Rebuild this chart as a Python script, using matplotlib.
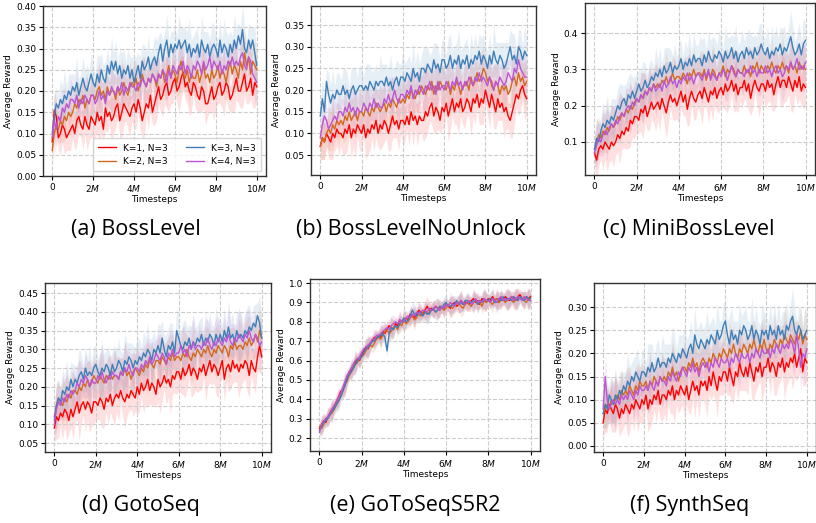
import matplotlib
matplotlib.use('Agg')
import matplotlib.pyplot as plt
import numpy as np

# timesteps in millions, one sample every 0.1M (each row below = 1M)
steps = np.linspace(0, 10, 101)

labels = ['K=1, N=3', 'K=2, N=3', 'K=3, N=3', 'K=4, N=3']
colors = ['#ff0000', '#d2691e', '#3f7fb8', '#ba55d3']

# (a) BossLevel
red_a = [0.08, 0.155, 0.14, 0.09, 0.10, 0.12, 0.11, 0.09, 0.10, 0.11,
         0.12, 0.10, 0.13, 0.14, 0.12, 0.11, 0.14, 0.12, 0.11, 0.14,
         0.13, 0.12, 0.15, 0.13, 0.14, 0.11, 0.16, 0.14, 0.15, 0.13,
         0.14, 0.16, 0.17, 0.13, 0.15, 0.17, 0.16, 0.15, 0.14, 0.16,
         0.17, 0.15, 0.18, 0.16, 0.13, 0.15, 0.17, 0.16, 0.19, 0.15,
         0.17, 0.19, 0.21, 0.18, 0.19, 0.21, 0.22, 0.19, 0.20, 0.22,
         0.23, 0.20, 0.21, 0.23, 0.245, 0.21, 0.22, 0.20, 0.19, 0.22,
         0.21, 0.19, 0.18, 0.21, 0.20, 0.17, 0.17, 0.19, 0.21, 0.18,
         0.19, 0.21, 0.22, 0.19, 0.20, 0.22, 0.21, 0.18, 0.19, 0.21,
         0.23, 0.20, 0.20, 0.22, 0.24, 0.20, 0.21, 0.23, 0.19, 0.22,
         0.21]
orange_a = [0.06, 0.10, 0.12, 0.11, 0.13, 0.12, 0.14, 0.13, 0.15, 0.14,
            0.15, 0.17, 0.16, 0.18, 0.17, 0.19, 0.16, 0.18, 0.17, 0.19,
            0.19, 0.18, 0.20, 0.21, 0.19, 0.20, 0.18, 0.21, 0.19, 0.20,
            0.20, 0.18, 0.21, 0.19, 0.20, 0.22, 0.20, 0.19, 0.21, 0.22,
            0.21, 0.23, 0.20, 0.22, 0.24, 0.22, 0.21, 0.23, 0.22, 0.24,
            0.23, 0.21, 0.24, 0.23, 0.25, 0.22, 0.24, 0.26, 0.23, 0.25,
            0.24, 0.22, 0.25, 0.27, 0.24, 0.23, 0.25, 0.22, 0.24, 0.23,
            0.23, 0.25, 0.22, 0.24, 0.26, 0.23, 0.24, 0.22, 0.25, 0.23,
            0.24, 0.26, 0.23, 0.25, 0.24, 0.22, 0.25, 0.27, 0.24, 0.26,
            0.25, 0.23, 0.27, 0.25, 0.29, 0.26, 0.28, 0.24, 0.27, 0.26,
            0.25]
blue_a = [0.10, 0.14, 0.17, 0.16, 0.18, 0.17, 0.19, 0.18, 0.20, 0.19,
          0.21, 0.20, 0.22, 0.19, 0.21, 0.23, 0.21, 0.20, 0.22, 0.24,
          0.22, 0.21, 0.24, 0.22, 0.25, 0.23, 0.22, 0.26, 0.24, 0.27,
          0.25, 0.27, 0.24, 0.26, 0.23, 0.25, 0.24, 0.26, 0.23, 0.25,
          0.22, 0.24, 0.26, 0.23, 0.27, 0.25, 0.26, 0.28, 0.25, 0.27,
          0.28, 0.26, 0.29, 0.31, 0.27, 0.30, 0.32, 0.28, 0.31, 0.29,
          0.31, 0.30, 0.32, 0.30, 0.31, 0.32, 0.29, 0.31, 0.28, 0.30,
          0.29, 0.31, 0.28, 0.32, 0.30, 0.29, 0.31, 0.28, 0.30, 0.31,
          0.30, 0.28, 0.32, 0.29, 0.31, 0.30, 0.28, 0.31, 0.29, 0.32,
          0.30, 0.33, 0.31, 0.345, 0.30, 0.29, 0.32, 0.30, 0.32, 0.29,
          0.26]
purple_a = [0.09, 0.13, 0.11, 0.14, 0.13, 0.16, 0.15, 0.17, 0.16, 0.18,
            0.18, 0.17, 0.19, 0.16, 0.18, 0.17, 0.19, 0.18, 0.17, 0.19,
            0.19, 0.17, 0.18, 0.20, 0.18, 0.19, 0.17, 0.20, 0.19, 0.21,
            0.20, 0.19, 0.21, 0.20, 0.22, 0.19, 0.21, 0.20, 0.22, 0.21,
            0.21, 0.20, 0.22, 0.21, 0.23, 0.22, 0.21, 0.23, 0.22, 0.24,
            0.23, 0.22, 0.24, 0.23, 0.25, 0.24, 0.22, 0.25, 0.23, 0.26,
            0.25, 0.24, 0.26, 0.25, 0.27, 0.24, 0.26, 0.25, 0.23, 0.26,
            0.25, 0.27, 0.26, 0.24, 0.27, 0.25, 0.26, 0.28, 0.25, 0.27,
            0.26, 0.25, 0.27, 0.24, 0.26, 0.25, 0.27, 0.26, 0.28, 0.26,
            0.27, 0.26, 0.28, 0.29, 0.26, 0.25, 0.28, 0.27, 0.24, 0.23,
            0.22]

# (b) BossLevelNoUnlock
red_b = [0.07, 0.09, 0.08, 0.10, 0.09, 0.08, 0.10, 0.09, 0.11, 0.10,
         0.10, 0.09, 0.11, 0.10, 0.12, 0.09, 0.11, 0.10, 0.12, 0.11,
         0.10, 0.12, 0.09, 0.11, 0.10, 0.12, 0.11, 0.13, 0.10, 0.12,
         0.11, 0.13, 0.12, 0.10, 0.12, 0.14, 0.12, 0.13, 0.11, 0.13,
         0.13, 0.12, 0.14, 0.12, 0.15, 0.13, 0.14, 0.12, 0.14, 0.13,
         0.13, 0.15, 0.14, 0.16, 0.17, 0.14, 0.16, 0.15, 0.13, 0.16,
         0.15, 0.17, 0.14, 0.16, 0.18, 0.15, 0.17, 0.16, 0.18, 0.15,
         0.16, 0.18, 0.17, 0.15, 0.18, 0.17, 0.19, 0.16, 0.18, 0.17,
         0.20, 0.18, 0.16, 0.19, 0.17, 0.15, 0.18, 0.16, 0.17, 0.15,
         0.16, 0.14, 0.13, 0.15, 0.17, 0.19, 0.18, 0.20, 0.21, 0.19,
         0.18]
orange_b = [0.07, 0.09, 0.08, 0.10, 0.11, 0.10, 0.12, 0.11, 0.13, 0.12,
            0.13, 0.12, 0.14, 0.13, 0.15, 0.13, 0.14, 0.15, 0.13, 0.15,
            0.15, 0.14, 0.16, 0.15, 0.14, 0.16, 0.15, 0.17, 0.16, 0.15,
            0.16, 0.17, 0.15, 0.17, 0.16, 0.18, 0.17, 0.16, 0.18, 0.17,
            0.18, 0.17, 0.19, 0.18, 0.20, 0.19, 0.18, 0.20, 0.19, 0.21,
            0.20, 0.19, 0.21, 0.20, 0.22, 0.19, 0.21, 0.20, 0.22, 0.21,
            0.21, 0.20, 0.22, 0.19, 0.21, 0.20, 0.22, 0.21, 0.19, 0.21,
            0.21, 0.22, 0.20, 0.23, 0.21, 0.22, 0.24, 0.22, 0.23, 0.25,
            0.24, 0.22, 0.23, 0.21, 0.20, 0.22, 0.21, 0.19, 0.21, 0.20,
            0.21, 0.19, 0.20, 0.22, 0.23, 0.21, 0.24, 0.22, 0.23, 0.21,
            0.22]
blue_b = [0.14, 0.18, 0.15, 0.22, 0.19, 0.17, 0.19, 0.18, 0.20, 0.19,
          0.19, 0.21, 0.19, 0.20, 0.18, 0.20, 0.21, 0.19, 0.20, 0.21,
          0.21, 0.20, 0.21, 0.20, 0.22, 0.21, 0.20, 0.22, 0.21, 0.22,
          0.22, 0.21, 0.23, 0.21, 0.22, 0.20, 0.22, 0.23, 0.21, 0.23,
          0.23, 0.22, 0.24, 0.23, 0.22, 0.25, 0.23, 0.24, 0.22, 0.25,
          0.25, 0.24, 0.26, 0.25, 0.24, 0.27, 0.25, 0.26, 0.24, 0.27,
          0.27, 0.25, 0.26, 0.28, 0.25, 0.27, 0.26, 0.28, 0.25, 0.27,
          0.26, 0.28, 0.25, 0.27, 0.26, 0.28, 0.27, 0.29, 0.26, 0.28,
          0.27, 0.25, 0.28, 0.26, 0.29, 0.27, 0.26, 0.28, 0.27, 0.25,
          0.26, 0.28, 0.30, 0.27, 0.28, 0.26, 0.30, 0.29, 0.27, 0.29,
          0.28]
purple_b = [0.09, 0.12, 0.14, 0.13, 0.11, 0.12, 0.13, 0.14, 0.13, 0.15,
            0.15, 0.14, 0.16, 0.15, 0.17, 0.15, 0.16, 0.14, 0.16, 0.15,
            0.15, 0.17, 0.16, 0.15, 0.17, 0.16, 0.18, 0.16, 0.17, 0.16,
            0.16, 0.18, 0.17, 0.19, 0.17, 0.18, 0.20, 0.18, 0.17, 0.19,
            0.19, 0.18, 0.20, 0.19, 0.21, 0.18, 0.20, 0.19, 0.21, 0.20,
            0.19, 0.21, 0.20, 0.22, 0.20, 0.21, 0.19, 0.22, 0.20, 0.21,
            0.20, 0.22, 0.21, 0.20, 0.22, 0.21, 0.23, 0.21, 0.22, 0.20,
            0.22, 0.21, 0.23, 0.22, 0.21, 0.23, 0.22, 0.24, 0.22, 0.23,
            0.22, 0.21, 0.23, 0.22, 0.20, 0.22, 0.21, 0.23, 0.22, 0.21,
            0.22, 0.24, 0.23, 0.22, 0.25, 0.24, 0.27, 0.25, 0.24, 0.23,
            0.23]

# (c) MiniBossLevel
red_c = [0.07, 0.05, 0.08, 0.09, 0.08, 0.10, 0.09, 0.08, 0.10, 0.09,
         0.10, 0.12, 0.11, 0.13, 0.12, 0.14, 0.13, 0.16, 0.15, 0.17,
         0.17, 0.16, 0.19, 0.18, 0.20, 0.17, 0.19, 0.21, 0.19, 0.20,
         0.21, 0.19, 0.22, 0.20, 0.18, 0.21, 0.23, 0.21, 0.22, 0.20,
         0.22, 0.24, 0.21, 0.23, 0.19, 0.22, 0.24, 0.22, 0.21, 0.23,
         0.24, 0.22, 0.25, 0.23, 0.21, 0.24, 0.23, 0.25, 0.22, 0.24,
         0.25, 0.23, 0.26, 0.24, 0.25, 0.27, 0.24, 0.26, 0.23, 0.25,
         0.25, 0.27, 0.24, 0.26, 0.22, 0.25, 0.27, 0.25, 0.24, 0.26,
         0.26, 0.24, 0.27, 0.25, 0.26, 0.23, 0.26, 0.28, 0.25, 0.27,
         0.27, 0.25, 0.28, 0.26, 0.24, 0.27, 0.25, 0.28, 0.24, 0.26,
         0.25]
orange_c = [0.08, 0.10, 0.12, 0.11, 0.13, 0.12, 0.14, 0.13, 0.15, 0.14,
            0.15, 0.17, 0.16, 0.18, 0.17, 0.19, 0.18, 0.20, 0.19, 0.21,
            0.22, 0.21, 0.23, 0.22, 0.24, 0.23, 0.25, 0.24, 0.26, 0.25,
            0.26, 0.25, 0.27, 0.26, 0.28, 0.26, 0.27, 0.29, 0.27, 0.28,
            0.28, 0.27, 0.29, 0.28, 0.26, 0.29, 0.28, 0.30, 0.28, 0.29,
            0.29, 0.28, 0.30, 0.27, 0.29, 0.28, 0.30, 0.29, 0.27, 0.29,
            0.29, 0.31, 0.28, 0.30, 0.29, 0.31, 0.30, 0.28, 0.30, 0.29,
            0.29, 0.31, 0.29, 0.30, 0.28, 0.31, 0.30, 0.32, 0.29, 0.31,
            0.30, 0.29, 0.31, 0.30, 0.32, 0.30, 0.29, 0.31, 0.30, 0.32,
            0.30, 0.31, 0.29, 0.32, 0.30, 0.31, 0.29, 0.32, 0.30, 0.31,
            0.30]
blue_c = [0.08, 0.11, 0.10, 0.13, 0.15, 0.14, 0.16, 0.15, 0.17, 0.16,
          0.18, 0.20, 0.19, 0.21, 0.22, 0.20, 0.23, 0.22, 0.24, 0.22,
          0.24, 0.26, 0.24, 0.25, 0.27, 0.25, 0.26, 0.28, 0.27, 0.29,
          0.28, 0.30, 0.28, 0.31, 0.29, 0.30, 0.32, 0.29, 0.31, 0.30,
          0.31, 0.33, 0.30, 0.32, 0.31, 0.33, 0.31, 0.34, 0.32, 0.33,
          0.33, 0.31, 0.34, 0.32, 0.35, 0.33, 0.32, 0.34, 0.33, 0.35,
          0.34, 0.32, 0.35, 0.33, 0.34, 0.36, 0.33, 0.35, 0.32, 0.34,
          0.35, 0.33, 0.36, 0.34, 0.35, 0.33, 0.36, 0.34, 0.35, 0.37,
          0.35, 0.34, 0.36, 0.33, 0.35, 0.34, 0.36, 0.35, 0.37, 0.34,
          0.36, 0.35, 0.37, 0.39, 0.36, 0.34, 0.35, 0.37, 0.34, 0.37,
          0.38]
purple_c = [0.07, 0.09, 0.11, 0.10, 0.12, 0.13, 0.12, 0.14, 0.15, 0.14,
            0.16, 0.15, 0.17, 0.18, 0.17, 0.19, 0.20, 0.19, 0.21, 0.20,
            0.22, 0.21, 0.23, 0.22, 0.24, 0.23, 0.25, 0.24, 0.26, 0.24,
            0.25, 0.26, 0.24, 0.27, 0.25, 0.26, 0.28, 0.26, 0.27, 0.25,
            0.27, 0.26, 0.28, 0.27, 0.29, 0.27, 0.28, 0.26, 0.28, 0.29,
            0.28, 0.27, 0.29, 0.28, 0.30, 0.27, 0.29, 0.28, 0.27, 0.29,
            0.28, 0.30, 0.29, 0.27, 0.29, 0.31, 0.29, 0.28, 0.30, 0.29,
            0.29, 0.28, 0.30, 0.29, 0.31, 0.29, 0.30, 0.28, 0.30, 0.29,
            0.29, 0.31, 0.29, 0.30, 0.28, 0.30, 0.31, 0.29, 0.30, 0.28,
            0.29, 0.31, 0.30, 0.32, 0.30, 0.31, 0.33, 0.30, 0.31, 0.30,
            0.32]

# (d) GotoSeq
red_d = [0.09, 0.12, 0.11, 0.13, 0.12, 0.14, 0.13, 0.11, 0.14, 0.12,
         0.14, 0.16, 0.13, 0.15, 0.16, 0.14, 0.16, 0.15, 0.13, 0.16,
         0.16, 0.15, 0.17, 0.16, 0.14, 0.17, 0.16, 0.18, 0.15, 0.17,
         0.18, 0.17, 0.19, 0.17, 0.16, 0.18, 0.17, 0.19, 0.18, 0.17,
         0.20, 0.18, 0.21, 0.19, 0.20, 0.22, 0.19, 0.21, 0.20, 0.18,
         0.22, 0.20, 0.21, 0.23, 0.21, 0.22, 0.20, 0.23, 0.22, 0.24,
         0.24, 0.22, 0.25, 0.23, 0.24, 0.26, 0.23, 0.25, 0.24, 0.22,
         0.25, 0.24, 0.26, 0.23, 0.25, 0.27, 0.24, 0.26, 0.25, 0.23,
         0.25, 0.27, 0.22, 0.25, 0.26, 0.24, 0.27, 0.25, 0.26, 0.24,
         0.26, 0.25, 0.27, 0.26, 0.23, 0.27, 0.25, 0.24, 0.28, 0.31,
         0.28]
orange_d = [0.12, 0.15, 0.17, 0.16, 0.15, 0.17, 0.16, 0.18, 0.17, 0.19,
            0.19, 0.18, 0.20, 0.19, 0.21, 0.20, 0.22, 0.20, 0.21, 0.23,
            0.22, 0.21, 0.23, 0.22, 0.21, 0.23, 0.22, 0.24, 0.22, 0.23,
            0.23, 0.22, 0.24, 0.23, 0.25, 0.23, 0.24, 0.22, 0.24, 0.25,
            0.24, 0.23, 0.25, 0.24, 0.26, 0.25, 0.27, 0.26, 0.25, 0.27,
            0.27, 0.26, 0.28, 0.27, 0.26, 0.28, 0.27, 0.29, 0.27, 0.28,
            0.28, 0.27, 0.29, 0.28, 0.30, 0.28, 0.27, 0.29, 0.28, 0.30,
            0.29, 0.28, 0.30, 0.29, 0.31, 0.29, 0.28, 0.30, 0.29, 0.31,
            0.30, 0.29, 0.31, 0.30, 0.28, 0.31, 0.30, 0.32, 0.30, 0.31,
            0.31, 0.30, 0.32, 0.31, 0.33, 0.31, 0.32, 0.34, 0.32, 0.35,
            0.33]
blue_d = [0.11, 0.15, 0.17, 0.16, 0.19, 0.18, 0.20, 0.19, 0.22, 0.20,
          0.22, 0.21, 0.23, 0.24, 0.22, 0.25, 0.23, 0.24, 0.23, 0.25,
          0.26, 0.24, 0.23, 0.25, 0.24, 0.26, 0.25, 0.23, 0.26, 0.24,
          0.25, 0.27, 0.26, 0.24, 0.27, 0.26, 0.28, 0.27, 0.25, 0.27,
          0.26, 0.28, 0.27, 0.29, 0.28, 0.30, 0.29, 0.27, 0.30, 0.29,
          0.31, 0.29, 0.33, 0.30, 0.28, 0.31, 0.30, 0.32, 0.29, 0.35,
          0.33, 0.31, 0.30, 0.32, 0.31, 0.33, 0.30, 0.32, 0.31, 0.33,
          0.32, 0.34, 0.31, 0.33, 0.32, 0.34, 0.33, 0.31, 0.34, 0.32,
          0.34, 0.32, 0.35, 0.33, 0.36, 0.33, 0.34, 0.32, 0.35, 0.33,
          0.34, 0.33, 0.35, 0.34, 0.36, 0.35, 0.37, 0.36, 0.39, 0.37,
          0.33]
purple_d = [0.10, 0.14, 0.16, 0.15, 0.17, 0.16, 0.18, 0.17, 0.19, 0.18,
            0.19, 0.21, 0.20, 0.22, 0.21, 0.23, 0.22, 0.20, 0.22, 0.21,
            0.21, 0.23, 0.22, 0.24, 0.22, 0.21, 0.23, 0.22, 0.24, 0.23,
            0.23, 0.22, 0.24, 0.23, 0.25, 0.24, 0.26, 0.24, 0.23, 0.25,
            0.25, 0.24, 0.26, 0.25, 0.27, 0.26, 0.28, 0.26, 0.27, 0.29,
            0.28, 0.27, 0.29, 0.28, 0.26, 0.29, 0.28, 0.30, 0.28, 0.29,
            0.29, 0.31, 0.29, 0.30, 0.28, 0.31, 0.30, 0.32, 0.30, 0.31,
            0.31, 0.30, 0.32, 0.31, 0.33, 0.31, 0.30, 0.32, 0.31, 0.33,
            0.32, 0.31, 0.33, 0.32, 0.34, 0.32, 0.31, 0.33, 0.32, 0.34,
            0.33, 0.32, 0.34, 0.33, 0.35, 0.33, 0.32, 0.34, 0.33, 0.31,
            0.32]

# (e) GoToSeqS5R2
red_e = [0.25, 0.27, 0.29, 0.28, 0.31, 0.33, 0.35, 0.36, 0.39, 0.41,
         0.44, 0.45, 0.47, 0.51, 0.54, 0.55, 0.56, 0.59, 0.61, 0.60,
         0.63, 0.65, 0.67, 0.66, 0.69, 0.70, 0.72, 0.71, 0.73, 0.72,
         0.75, 0.74, 0.76, 0.78, 0.77, 0.76, 0.79, 0.78, 0.81, 0.80,
         0.80, 0.82, 0.81, 0.84, 0.83, 0.82, 0.84, 0.86, 0.85, 0.84,
         0.86, 0.88, 0.86, 0.87, 0.86, 0.88, 0.87, 0.86, 0.88, 0.87,
         0.89, 0.88, 0.87, 0.89, 0.90, 0.88, 0.89, 0.91, 0.89, 0.90,
         0.90, 0.89, 0.91, 0.92, 0.90, 0.91, 0.89, 0.92, 0.91, 0.90,
         0.92, 0.91, 0.93, 0.91, 0.92, 0.90, 0.92, 0.91, 0.93, 0.92,
         0.91, 0.93, 0.92, 0.91, 0.93, 0.94, 0.92, 0.91, 0.93, 0.92,
         0.93]
orange_e = [0.26, 0.25, 0.27, 0.30, 0.31, 0.32, 0.33, 0.35, 0.38, 0.39,
            0.42, 0.44, 0.48, 0.49, 0.52, 0.54, 0.57, 0.58, 0.59, 0.61,
            0.62, 0.63, 0.65, 0.67, 0.68, 0.67, 0.69, 0.71, 0.72, 0.71,
            0.73, 0.75, 0.76, 0.74, 0.75, 0.77, 0.78, 0.76, 0.79, 0.78,
            0.81, 0.79, 0.80, 0.82, 0.83, 0.81, 0.82, 0.84, 0.83, 0.85,
            0.86, 0.84, 0.85, 0.86, 0.87, 0.85, 0.86, 0.88, 0.87, 0.86,
            0.87, 0.89, 0.88, 0.87, 0.88, 0.89, 0.90, 0.88, 0.87, 0.89,
            0.90, 0.89, 0.88, 0.90, 0.91, 0.89, 0.90, 0.88, 0.91, 0.90,
            0.91, 0.90, 0.89, 0.91, 0.92, 0.90, 0.91, 0.92, 0.90, 0.91,
            0.92, 0.91, 0.90, 0.92, 0.91, 0.93, 0.92, 0.91, 0.90, 0.92,
            0.91]
blue_e = [0.24, 0.26, 0.28, 0.29, 0.30, 0.32, 0.34, 0.35, 0.37, 0.39,
          0.41, 0.44, 0.47, 0.50, 0.53, 0.54, 0.56, 0.58, 0.60, 0.61,
          0.62, 0.64, 0.66, 0.67, 0.68, 0.70, 0.70, 0.72, 0.72, 0.73,
          0.74, 0.72, 0.65, 0.74, 0.77, 0.76, 0.78, 0.77, 0.79, 0.80,
          0.82, 0.80, 0.81, 0.83, 0.86, 0.84, 0.83, 0.85, 0.84, 0.83,
          0.85, 0.84, 0.84, 0.86, 0.87, 0.85, 0.86, 0.88, 0.87, 0.89,
          0.90, 0.88, 0.88, 0.89, 0.89, 0.91, 0.89, 0.90, 0.89, 0.91,
          0.91, 0.90, 0.90, 0.91, 0.91, 0.89, 0.91, 0.90, 0.92, 0.91,
          0.91, 0.92, 0.92, 0.90, 0.90, 0.92, 0.91, 0.93, 0.91, 0.92,
          0.92, 0.91, 0.93, 0.92, 0.91, 0.93, 0.92, 0.91, 0.93, 0.92,
          0.92]
purple_e = [0.23, 0.27, 0.29, 0.30, 0.31, 0.33, 0.35, 0.37, 0.39, 0.41,
            0.43, 0.46, 0.49, 0.52, 0.54, 0.56, 0.58, 0.60, 0.61, 0.62,
            0.64, 0.66, 0.67, 0.68, 0.69, 0.71, 0.71, 0.73, 0.73, 0.74,
            0.75, 0.76, 0.77, 0.76, 0.78, 0.79, 0.80, 0.79, 0.81, 0.80,
            0.80, 0.82, 0.83, 0.82, 0.84, 0.83, 0.85, 0.84, 0.85, 0.86,
            0.86, 0.85, 0.87, 0.86, 0.86, 0.88, 0.87, 0.86, 0.88, 0.87,
            0.89, 0.88, 0.90, 0.89, 0.88, 0.90, 0.89, 0.91, 0.90, 0.89,
            0.90, 0.91, 0.89, 0.90, 0.92, 0.90, 0.91, 0.90, 0.92, 0.91,
            0.91, 0.90, 0.92, 0.91, 0.90, 0.92, 0.93, 0.91, 0.92, 0.91,
            0.92, 0.93, 0.91, 0.92, 0.93, 0.92, 0.91, 0.93, 0.92, 0.91,
            0.91]

# (f) SynthSeq
red_f = [0.05, 0.08, 0.07, 0.09, 0.08, 0.07, 0.09, 0.08, 0.06, 0.08,
         0.07, 0.09, 0.08, 0.07, 0.09, 0.08, 0.10, 0.09, 0.08, 0.10,
         0.09, 0.11, 0.08, 0.10, 0.09, 0.11, 0.10, 0.12, 0.09, 0.11,
         0.11, 0.10, 0.12, 0.11, 0.13, 0.10, 0.12, 0.11, 0.13, 0.12,
         0.11, 0.13, 0.10, 0.12, 0.14, 0.12, 0.13, 0.11, 0.14, 0.13,
         0.14, 0.12, 0.15, 0.13, 0.16, 0.14, 0.12, 0.15, 0.14, 0.16,
         0.16, 0.14, 0.17, 0.15, 0.13, 0.16, 0.15, 0.18, 0.16, 0.15,
         0.17, 0.15, 0.18, 0.16, 0.14, 0.17, 0.16, 0.18, 0.15, 0.17,
         0.17, 0.19, 0.16, 0.18, 0.17, 0.15, 0.18, 0.17, 0.19, 0.16,
         0.18, 0.17, 0.19, 0.18, 0.20, 0.17, 0.19, 0.21, 0.16, 0.19,
         0.18]
orange_f = [0.07, 0.08, 0.09, 0.08, 0.10, 0.09, 0.10, 0.11, 0.10, 0.12,
            0.11, 0.12, 0.11, 0.13, 0.12, 0.11, 0.13, 0.12, 0.14, 0.13,
            0.13, 0.14, 0.12, 0.14, 0.13, 0.15, 0.14, 0.13, 0.15, 0.14,
            0.15, 0.14, 0.16, 0.15, 0.17, 0.15, 0.16, 0.14, 0.16, 0.17,
            0.17, 0.16, 0.18, 0.17, 0.19, 0.17, 0.18, 0.16, 0.18, 0.19,
            0.18, 0.17, 0.19, 0.18, 0.20, 0.19, 0.18, 0.20, 0.19, 0.21,
            0.20, 0.19, 0.21, 0.20, 0.22, 0.20, 0.19, 0.21, 0.20, 0.22,
            0.21, 0.20, 0.22, 0.21, 0.23, 0.21, 0.20, 0.22, 0.21, 0.23,
            0.21, 0.20, 0.22, 0.21, 0.23, 0.22, 0.21, 0.23, 0.22, 0.24,
            0.23, 0.22, 0.24, 0.23, 0.22, 0.24, 0.23, 0.25, 0.22, 0.24,
            0.23]
blue_f = [0.07, 0.09, 0.08, 0.11, 0.10, 0.09, 0.11, 0.10, 0.12, 0.11,
          0.13, 0.12, 0.14, 0.13, 0.15, 0.14, 0.16, 0.15, 0.14, 0.16,
          0.16, 0.15, 0.17, 0.16, 0.18, 0.16, 0.17, 0.19, 0.17, 0.18,
          0.18, 0.17, 0.19, 0.18, 0.20, 0.19, 0.18, 0.20, 0.19, 0.21,
          0.20, 0.19, 0.21, 0.22, 0.20, 0.24, 0.22, 0.21, 0.23, 0.22,
          0.21, 0.23, 0.22, 0.24, 0.23, 0.22, 0.25, 0.23, 0.24, 0.26,
          0.27, 0.24, 0.22, 0.25, 0.23, 0.24, 0.22, 0.25, 0.24, 0.26,
          0.25, 0.23, 0.24, 0.26, 0.23, 0.25, 0.24, 0.22, 0.25, 0.24,
          0.25, 0.23, 0.26, 0.24, 0.25, 0.23, 0.26, 0.24, 0.25, 0.23,
          0.26, 0.25, 0.27, 0.28, 0.25, 0.24, 0.26, 0.25, 0.23, 0.24,
          0.25]
purple_f = [0.08, 0.15, 0.10, 0.08, 0.09, 0.10, 0.09, 0.10, 0.09, 0.11,
            0.10, 0.11, 0.10, 0.12, 0.11, 0.10, 0.12, 0.11, 0.13, 0.12,
            0.12, 0.13, 0.12, 0.14, 0.13, 0.12, 0.14, 0.13, 0.15, 0.14,
            0.14, 0.13, 0.15, 0.14, 0.16, 0.15, 0.14, 0.16, 0.15, 0.17,
            0.16, 0.15, 0.17, 0.16, 0.18, 0.16, 0.17, 0.15, 0.17, 0.18,
            0.17, 0.18, 0.16, 0.18, 0.17, 0.19, 0.18, 0.17, 0.19, 0.18,
            0.18, 0.19, 0.17, 0.19, 0.18, 0.20, 0.19, 0.18, 0.20, 0.19,
            0.19, 0.20, 0.18, 0.20, 0.19, 0.21, 0.20, 0.19, 0.21, 0.20,
            0.20, 0.21, 0.19, 0.21, 0.20, 0.22, 0.21, 0.20, 0.22, 0.21,
            0.22, 0.21, 0.23, 0.22, 0.20, 0.24, 0.21, 0.17, 0.20, 0.19,
            0.21]

# half-width of the shaded bands (spread over seeds)
spread = [0.03, 0.05, 0.04, 0.03, 0.05, 0.04, 0.06, 0.03, 0.04, 0.05,
          0.03, 0.04, 0.06, 0.04, 0.03, 0.05, 0.04, 0.06, 0.03, 0.05,
          0.04, 0.03, 0.05, 0.06, 0.04, 0.03, 0.05, 0.04, 0.03, 0.06,
          0.04, 0.05, 0.03, 0.04, 0.06, 0.05, 0.03, 0.04, 0.05, 0.03,
          0.06, 0.04, 0.03, 0.05, 0.04, 0.06, 0.03, 0.05, 0.04, 0.03,
          0.05, 0.06, 0.04, 0.03, 0.05, 0.04, 0.06, 0.04, 0.03, 0.05,
          0.04, 0.03, 0.06, 0.05, 0.04, 0.03, 0.05, 0.06, 0.04, 0.03,
          0.05, 0.04, 0.03, 0.06, 0.04, 0.05, 0.03, 0.04, 0.06, 0.05,
          0.03, 0.04, 0.05, 0.03, 0.06, 0.04, 0.05, 0.03, 0.04, 0.06,
          0.05, 0.03, 0.04, 0.06, 0.05, 0.03, 0.04, 0.05, 0.03, 0.06,
          0.04]
spread_scale = [1.0, 1.0, 1.2, 1.2, 0.9, 1.0]

captions = ['(a) BossLevel', '(b) BossLevelNoUnlock', '(c) MiniBossLevel',
            '(d) GotoSeq', '(e) GoToSeqS5R2', '(f) SynthSeq']
panels = [(red_a, orange_a, blue_a, purple_a), (red_b, orange_b, blue_b, purple_b),
          (red_c, orange_c, blue_c, purple_c), (red_d, orange_d, blue_d, purple_d),
          (red_e, orange_e, blue_e, purple_e), (red_f, orange_f, blue_f, purple_f)]
yticks = [[0.0, 0.05, 0.10, 0.15, 0.20, 0.25, 0.30, 0.35, 0.40],
          [0.05, 0.10, 0.15, 0.20, 0.25, 0.30, 0.35],
          [0.1, 0.2, 0.3, 0.4],
          [0.05, 0.10, 0.15, 0.20, 0.25, 0.30, 0.35, 0.40, 0.45],
          [0.2, 0.3, 0.4, 0.5, 0.6, 0.7, 0.8, 0.9, 1.0],
          [0.0, 0.05, 0.10, 0.15, 0.20, 0.25, 0.30]]
ylims = [(0.0, 0.40), (0.004, 0.394), (0.009, 0.483),
         (0.026, 0.477), (0.133, 1.021), (-0.013, 0.352)]
yfmt = ['%.2f', '%.2f', '%.1f', '%.2f', '%.1f', '%.2f']

W, H = 816, 523
# axes boxes in pixels: left, top, right, bottom
boxes = [(43, 6, 266, 176), (311, 6, 536, 175), (585, 3, 815, 175),
         (45, 283, 271, 452), (310, 279, 540, 451), (594, 283, 816, 452)]
caption_xy = [(136, 229), (411, 229), (689, 229),
              (141, 505), (415, 505), (690, 505)]

fig = plt.figure(figsize=(W / 100, H / 100), dpi=100)

for i in range(6):
    l, t, r, b = boxes[i]
    ax = fig.add_axes([l / W, 1 - b / H, (r - l) / W, (b - t) / H])
    sd = np.array(spread) * spread_scale[i]
    for ys, c, lab in zip(panels[i], colors, labels):
        ys = np.array(ys)
        ax.fill_between(steps, ys - sd, ys + sd, color=c, alpha=0.12, lw=0)
        ax.plot(steps, ys, color=c, lw=1.0, label=lab)
    ax.set_xlim(-0.45, 10.45)
    ax.set_ylim(*ylims[i])
    ax.set_xticks([0, 2, 4, 6, 8, 10])
    ax.set_xticklabels(['0', '2$M$', '4$M$', '6$M$', '8$M$', '10$M$'])
    ax.set_yticks(yticks[i])
    ax.set_yticklabels([yfmt[i] % v for v in yticks[i]])
    ax.tick_params(labelsize=6.5, length=3, width=0.8, pad=2)
    ax.grid(True, linestyle='--', color='#cccccc', lw=0.8)
    for s in ax.spines.values():
        s.set_color('#333333')
        s.set_linewidth(1.0)
    ax.set_xlabel('Timesteps', fontsize=6.5, labelpad=1)
    ax.set_ylabel('Average Reward', fontsize=6.5, labelpad=2)
    if i == 0:
        ax.legend(loc='lower right', ncol=2, fontsize=6.5, handlelength=2.0,
                  columnspacing=2.0, borderpad=0.6, framealpha=0.8)
    cx, cy = caption_xy[i]
    fig.text(cx / W, 1 - cy / H, captions[i], ha='center', va='center',
             fontsize=15.5, family='Open Sans')

fig.savefig('out.png', dpi=100)
